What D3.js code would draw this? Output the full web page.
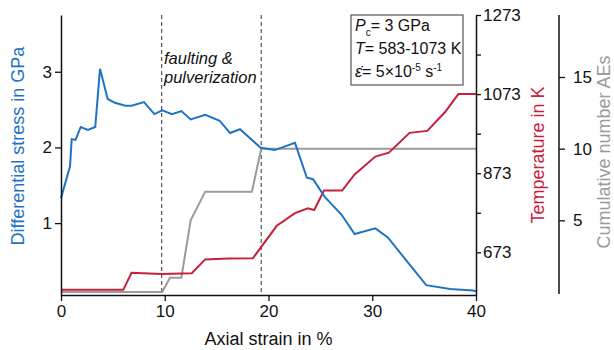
<!DOCTYPE html>
<html>
<head>
<meta charset="utf-8">
<script src="https://cdn.jsdelivr.net/npm/d3@7"></script>
<style>
  body { margin: 0; background: #fff; }
  svg { font-family: "Liberation Sans", Arial, sans-serif; }
</style>
</head>
<body>
<div id="chart"></div>
<script>
// strain (%) and differential stress (GPa)
const stressStrain = [0, 0.87, 1.03, 1.4, 1.9, 2.6, 3.3, 3.76, 4.5, 5.2, 6.2, 6.8, 8.0, 9.0, 9.76,
  10.7, 11.6, 12.5, 13.9, 15.3, 16.3, 17.25, 19.25, 20.6, 22.55, 23.7, 24.3, 25.4, 27.05,
  28.3, 30.3, 31.5, 35.2, 37.5, 39.7, 40];
const stressValues = [1.33, 1.75, 2.11, 2.1, 2.27, 2.23, 2.27, 3.04, 2.64, 2.59, 2.55, 2.55, 2.6, 2.44, 2.49,
  2.44, 2.48, 2.37, 2.43, 2.35, 2.19, 2.24, 1.995, 1.965, 2.06, 1.6, 1.58, 1.35, 1.11,
  0.855, 0.93, 0.81, 0.18, 0.13, 0.11, 0.1];

// temperature (K)
const tempStrain = [0, 6.0, 6.8, 9.7, 12.6, 13.9, 16.1, 18.5, 20.8, 22.55, 23.8, 24.4, 25.35, 27.1,
  28.3, 30.3, 31.6, 33.6, 35.3, 37.0, 38.3, 40];
const tempValues = [578, 578, 621, 618, 620, 655, 657, 658, 740, 772, 784, 780, 829, 829,
  870, 915, 925, 975, 980, 1027, 1073, 1073];

// cumulative acoustic emissions
const aeStrain = [0, 9.76, 10.5, 11.6, 12.5, 13.9, 18.4, 19.3, 40];
const aeValues = [0, 0, 1, 1, 5, 7, 7, 10, 10];

const strainTicks = [0, 10, 20, 30, 40];
const stressTicks = [1, 2, 3];
const tempTicks = [673, 773, 873, 973, 1073, 1173, 1273];
const tempLabels = [673, 873, 1073, 1273];
const aeTicks = [5, 10, 15];
const phaseLines = [9.7, 19.3];

const blue = "#1f74c2", red = "#c8203a", gray = "#9a9a9a";
const font = "'Liberation Sans', Arial, sans-serif";

const width = 614, height = 350;
const plot = {left: 61, right: 476, top: 15, bottom: 295};

const svg = d3.select("#chart").append("svg")
  .attr("width", width)
  .attr("height", height)
  .attr("font-family", font);

const x = d3.scaleLinear().domain([0, 40]).range([plot.left, plot.right]);
const y = d3.scaleLinear().domain([0.05, 3.75]).range([plot.bottom, plot.top]);
const yT = d3.scaleLinear().domain([565, 1273]).range([plot.bottom, plot.top]);
const yA = d3.scaleLinear().domain([0, 15]).range([292, 77]);

// dashed phase lines
svg.selectAll("line.phase")
  .data(phaseLines)
  .enter().append("line")
  .attr("x1", d => x(d)).attr("x2", d => x(d))
  .attr("y1", plot.top).attr("y2", plot.bottom)
  .attr("stroke", "#555")
  .attr("stroke-width", 1.2)
  .attr("stroke-dasharray", "4,3");

const line = (xs, ys, ysc) => d3.line()
  .x((d, i) => x(xs[i]))
  .y(d => ysc(d))(ys);

svg.append("path").attr("d", line(aeStrain, aeValues, yA))
  .attr("fill", "none").attr("stroke", gray).attr("stroke-width", 2);
svg.append("path").attr("d", line(tempStrain, tempValues, yT))
  .attr("fill", "none").attr("stroke", red).attr("stroke-width", 2);
svg.append("path").attr("d", line(stressStrain, stressValues, y))
  .attr("fill", "none").attr("stroke", blue).attr("stroke-width", 2);

// axes
function styleAxis(g) {
  g.attr("font-family", font);
  g.selectAll("path.domain").attr("stroke", "#111").attr("stroke-width", 1.5);
  g.selectAll(".tick line").attr("stroke", "#111").attr("stroke-width", 1.3);
  g.selectAll(".tick text").attr("font-size", 17).attr("fill", "#111");
}

svg.append("g")
  .attr("transform", `translate(0,${plot.bottom})`)
  .call(d3.axisBottom(x).tickValues(strainTicks).tickSize(6).tickSizeOuter(0).tickPadding(4))
  .call(styleAxis);

svg.append("g")
  .attr("transform", `translate(${plot.left},0)`)
  .call(d3.axisLeft(y).tickValues(stressTicks).tickFormat(d3.format("d"))
    .tickSize(6).tickSizeOuter(0).tickPadding(3))
  .call(styleAxis);

svg.append("g")
  .attr("transform", `translate(${plot.right},0)`)
  .call(d3.axisRight(yT).tickValues(tempTicks).tickSize(5).tickSizeOuter(0).tickPadding(2)
    .tickFormat(d => tempLabels.includes(d) ? d : ""))
  .call(styleAxis);

svg.append("g")
  .attr("transform", "translate(559,0)")
  .call(d3.axisRight(yA).tickValues(aeTicks).tickSize(6).tickSizeOuter(0).tickPadding(8))
  .call(g => g.select("path.domain").attr("d", `M0,${plot.top}V${plot.bottom - 1}`))
  .call(styleAxis);

// axis titles
svg.append("text")
  .attr("x", (plot.left + plot.right) / 2).attr("y", 345)
  .attr("text-anchor", "middle").attr("font-size", 18).attr("fill", "#111")
  .text("Axial strain in %");

svg.append("text")
  .attr("transform", "translate(24,146) rotate(-90)")
  .attr("text-anchor", "middle").attr("font-size", 18).attr("fill", blue)
  .text("Differential stress in GPa");

svg.append("text")
  .attr("transform", "translate(544,155) rotate(-90)")
  .attr("text-anchor", "middle").attr("font-size", 18).attr("fill", red)
  .text("Temperature in K");

svg.append("text")
  .attr("transform", "translate(610,152) rotate(-90)")
  .attr("text-anchor", "middle").attr("font-size", 18).attr("fill", gray)
  .text("Cumulative number AEs");

// annotation
svg.append("text")
  .attr("x", 164).attr("y", 64)
  .attr("font-size", 16.5).attr("font-style", "italic").attr("fill", "#111")
  .text("faulting &");
svg.append("text")
  .attr("x", 164).attr("y", 83)
  .attr("font-size", 16.5).attr("font-style", "italic").attr("fill", "#111")
  .text("pulverization");

// condition box
svg.append("rect")
  .attr("x", 351).attr("y", 15).attr("width", 112).attr("height", 70)
  .attr("fill", "#fff").attr("stroke", "#555").attr("stroke-width", 1.2);

const box = svg.append("g").attr("font-size", 16).attr("fill", "#111");
const l1 = box.append("text").attr("x", 355).attr("y", 31);
l1.append("tspan").attr("font-style", "italic").text("P");
l1.append("tspan").attr("font-size", 10).attr("dy", 5).text("c");
l1.append("tspan").attr("dy", -5).text("= 3 GPa");

const l2 = box.append("text").attr("x", 355).attr("y", 54);
l2.append("tspan").attr("font-style", "italic").text("T");
l2.append("tspan").text("= 583-1073 K");

const l3 = box.append("text").attr("x", 355).attr("y", 77);
l3.append("tspan").attr("font-style", "italic").text("ε\u0307");
l3.append("tspan").text("= 5×10");
l3.append("tspan").attr("font-size", 10).attr("dy", -6).text("-5");
l3.append("tspan").attr("dy", 6).text(" s");
l3.append("tspan").attr("font-size", 10).attr("dy", -6).text("-1");
</script>
</body>
</html>
